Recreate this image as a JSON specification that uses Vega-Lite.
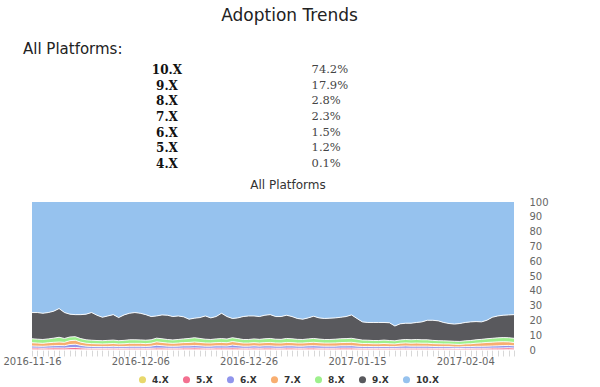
{
"$schema": "https://vega.github.io/schema/vega-lite/v6.json",
"padding": {"left": 2, "top": 7, "right": 5, "bottom": 5},
"background": "white",
"title": {"text": "Adoption Trends", "anchor": "middle", "fontSize": 17, "fontWeight": "normal", "font": "DejaVu Sans", "color": "#222", "dx": 14, "offset": 17},
"datasets": {
"table": [
{"s":"10.X","share":0.742},{"s":"9.X","share":0.179},{"s":"8.X","share":0.028},{"s":"7.X","share":0.023},{"s":"6.X","share":0.015},{"s":"5.X","share":0.012},{"s":"4.X","share":0.001}
],
"trend": [
{"d":"2016/11/16","s":"4.X","v":4,"p":0.1},{"d":"2016/11/16","s":"5.X","v":5,"p":1.2},{"d":"2016/11/16","s":"6.X","v":6,"p":1.4},{"d":"2016/11/16","s":"7.X","v":7,"p":2.2},{"d":"2016/11/16","s":"8.X","v":8,"p":2.7},{"d":"2016/11/16","s":"9.X","v":9,"p":17.7},{"d":"2016/11/16","s":"10.X","v":10,"p":74.7},
{"d":"2016/11/17","s":"4.X","v":4,"p":0.1},{"d":"2016/11/17","s":"5.X","v":5,"p":1.2},{"d":"2016/11/17","s":"6.X","v":6,"p":1.3},{"d":"2016/11/17","s":"7.X","v":7,"p":2.1},{"d":"2016/11/17","s":"8.X","v":8,"p":2.6},{"d":"2016/11/17","s":"9.X","v":9,"p":18.0},{"d":"2016/11/17","s":"10.X","v":10,"p":74.7},
{"d":"2016/11/18","s":"4.X","v":4,"p":0.1},{"d":"2016/11/18","s":"5.X","v":5,"p":1.1},{"d":"2016/11/18","s":"6.X","v":6,"p":1.3},{"d":"2016/11/18","s":"7.X","v":7,"p":2.0},{"d":"2016/11/18","s":"8.X","v":8,"p":2.6},{"d":"2016/11/18","s":"9.X","v":9,"p":17.7},{"d":"2016/11/18","s":"10.X","v":10,"p":75.2},
{"d":"2016/11/19","s":"4.X","v":4,"p":0.1},{"d":"2016/11/19","s":"5.X","v":5,"p":1.2},{"d":"2016/11/19","s":"6.X","v":6,"p":1.4},{"d":"2016/11/19","s":"7.X","v":7,"p":2.2},{"d":"2016/11/19","s":"8.X","v":8,"p":2.6},{"d":"2016/11/19","s":"9.X","v":9,"p":17.8},{"d":"2016/11/19","s":"10.X","v":10,"p":74.7},
{"d":"2016/11/20","s":"4.X","v":4,"p":0.1},{"d":"2016/11/20","s":"5.X","v":5,"p":1.3},{"d":"2016/11/20","s":"6.X","v":6,"p":1.5},{"d":"2016/11/20","s":"7.X","v":7,"p":2.3},{"d":"2016/11/20","s":"8.X","v":8,"p":2.8},{"d":"2016/11/20","s":"9.X","v":9,"p":18.2},{"d":"2016/11/20","s":"10.X","v":10,"p":73.8},
{"d":"2016/11/21","s":"4.X","v":4,"p":0.1},{"d":"2016/11/21","s":"5.X","v":5,"p":1.3},{"d":"2016/11/21","s":"6.X","v":6,"p":1.6},{"d":"2016/11/21","s":"7.X","v":7,"p":2.4},{"d":"2016/11/21","s":"8.X","v":8,"p":3.2},{"d":"2016/11/21","s":"9.X","v":9,"p":19.4},{"d":"2016/11/21","s":"10.X","v":10,"p":72.0},
{"d":"2016/11/22","s":"4.X","v":4,"p":0.1},{"d":"2016/11/22","s":"5.X","v":5,"p":1.2},{"d":"2016/11/22","s":"6.X","v":6,"p":1.6},{"d":"2016/11/22","s":"7.X","v":7,"p":2.3},{"d":"2016/11/22","s":"8.X","v":8,"p":2.6},{"d":"2016/11/22","s":"9.X","v":9,"p":17.5},{"d":"2016/11/22","s":"10.X","v":10,"p":74.7},
{"d":"2016/11/23","s":"4.X","v":4,"p":0.2},{"d":"2016/11/23","s":"5.X","v":5,"p":1.4},{"d":"2016/11/23","s":"6.X","v":6,"p":2.1},{"d":"2016/11/23","s":"7.X","v":7,"p":2.6},{"d":"2016/11/23","s":"8.X","v":8,"p":2.5},{"d":"2016/11/23","s":"9.X","v":9,"p":15.4},{"d":"2016/11/23","s":"10.X","v":10,"p":75.8},
{"d":"2016/11/24","s":"4.X","v":4,"p":0.2},{"d":"2016/11/24","s":"5.X","v":5,"p":1.5},{"d":"2016/11/24","s":"6.X","v":6,"p":2.2},{"d":"2016/11/24","s":"7.X","v":7,"p":2.7},{"d":"2016/11/24","s":"8.X","v":8,"p":2.4},{"d":"2016/11/24","s":"9.X","v":9,"p":14.9},{"d":"2016/11/24","s":"10.X","v":10,"p":76.1},
{"d":"2016/11/25","s":"4.X","v":4,"p":0.1},{"d":"2016/11/25","s":"5.X","v":5,"p":1.3},{"d":"2016/11/25","s":"6.X","v":6,"p":1.7},{"d":"2016/11/25","s":"7.X","v":7,"p":2.2},{"d":"2016/11/25","s":"8.X","v":8,"p":2.4},{"d":"2016/11/25","s":"9.X","v":9,"p":16.2},{"d":"2016/11/25","s":"10.X","v":10,"p":76.1},
{"d":"2016/11/26","s":"4.X","v":4,"p":0.1},{"d":"2016/11/26","s":"5.X","v":5,"p":1.1},{"d":"2016/11/26","s":"6.X","v":6,"p":1.4},{"d":"2016/11/26","s":"7.X","v":7,"p":2.0},{"d":"2016/11/26","s":"8.X","v":8,"p":2.3},{"d":"2016/11/26","s":"9.X","v":9,"p":17.3},{"d":"2016/11/26","s":"10.X","v":10,"p":75.8},
{"d":"2016/11/27","s":"4.X","v":4,"p":0.1},{"d":"2016/11/27","s":"5.X","v":5,"p":1.0},{"d":"2016/11/27","s":"6.X","v":6,"p":1.3},{"d":"2016/11/27","s":"7.X","v":7,"p":1.9},{"d":"2016/11/27","s":"8.X","v":8,"p":2.3},{"d":"2016/11/27","s":"9.X","v":9,"p":18.7},{"d":"2016/11/27","s":"10.X","v":10,"p":74.7},
{"d":"2016/11/28","s":"4.X","v":4,"p":0.1},{"d":"2016/11/28","s":"5.X","v":5,"p":1.0},{"d":"2016/11/28","s":"6.X","v":6,"p":1.2},{"d":"2016/11/28","s":"7.X","v":7,"p":1.9},{"d":"2016/11/28","s":"8.X","v":8,"p":2.2},{"d":"2016/11/28","s":"9.X","v":9,"p":17.1},{"d":"2016/11/28","s":"10.X","v":10,"p":76.5},
{"d":"2016/11/29","s":"4.X","v":4,"p":0.1},{"d":"2016/11/29","s":"5.X","v":5,"p":1.0},{"d":"2016/11/29","s":"6.X","v":6,"p":1.2},{"d":"2016/11/29","s":"7.X","v":7,"p":1.8},{"d":"2016/11/29","s":"8.X","v":8,"p":2.2},{"d":"2016/11/29","s":"9.X","v":9,"p":15.8},{"d":"2016/11/29","s":"10.X","v":10,"p":77.9},
{"d":"2016/11/30","s":"4.X","v":4,"p":0.1},{"d":"2016/11/30","s":"5.X","v":5,"p":1.0},{"d":"2016/11/30","s":"6.X","v":6,"p":1.2},{"d":"2016/11/30","s":"7.X","v":7,"p":1.9},{"d":"2016/11/30","s":"8.X","v":8,"p":2.3},{"d":"2016/11/30","s":"9.X","v":9,"p":16.5},{"d":"2016/11/30","s":"10.X","v":10,"p":77.0},
{"d":"2016/12/01","s":"4.X","v":4,"p":0.1},{"d":"2016/12/01","s":"5.X","v":5,"p":1.1},{"d":"2016/12/01","s":"6.X","v":6,"p":1.3},{"d":"2016/12/01","s":"7.X","v":7,"p":1.9},{"d":"2016/12/01","s":"8.X","v":8,"p":2.3},{"d":"2016/12/01","s":"9.X","v":9,"p":17.2},{"d":"2016/12/01","s":"10.X","v":10,"p":76.1},
{"d":"2016/12/02","s":"4.X","v":4,"p":0.1},{"d":"2016/12/02","s":"5.X","v":5,"p":1.0},{"d":"2016/12/02","s":"6.X","v":6,"p":1.2},{"d":"2016/12/02","s":"7.X","v":7,"p":1.8},{"d":"2016/12/02","s":"8.X","v":8,"p":2.2},{"d":"2016/12/02","s":"9.X","v":9,"p":15.6},{"d":"2016/12/02","s":"10.X","v":10,"p":78.1},
{"d":"2016/12/03","s":"4.X","v":4,"p":0.1},{"d":"2016/12/03","s":"5.X","v":5,"p":1.0},{"d":"2016/12/03","s":"6.X","v":6,"p":1.2},{"d":"2016/12/03","s":"7.X","v":7,"p":1.9},{"d":"2016/12/03","s":"8.X","v":8,"p":2.3},{"d":"2016/12/03","s":"9.X","v":9,"p":17.2},{"d":"2016/12/03","s":"10.X","v":10,"p":76.3},
{"d":"2016/12/04","s":"4.X","v":4,"p":0.1},{"d":"2016/12/04","s":"5.X","v":5,"p":1.1},{"d":"2016/12/04","s":"6.X","v":6,"p":1.3},{"d":"2016/12/04","s":"7.X","v":7,"p":2.0},{"d":"2016/12/04","s":"8.X","v":8,"p":2.4},{"d":"2016/12/04","s":"9.X","v":9,"p":17.9},{"d":"2016/12/04","s":"10.X","v":10,"p":75.2},
{"d":"2016/12/05","s":"4.X","v":4,"p":0.1},{"d":"2016/12/05","s":"5.X","v":5,"p":1.1},{"d":"2016/12/05","s":"6.X","v":6,"p":1.3},{"d":"2016/12/05","s":"7.X","v":7,"p":2.0},{"d":"2016/12/05","s":"8.X","v":8,"p":2.4},{"d":"2016/12/05","s":"9.X","v":9,"p":18.4},{"d":"2016/12/05","s":"10.X","v":10,"p":74.7},
{"d":"2016/12/06","s":"4.X","v":4,"p":0.1},{"d":"2016/12/06","s":"5.X","v":5,"p":1.1},{"d":"2016/12/06","s":"6.X","v":6,"p":1.3},{"d":"2016/12/06","s":"7.X","v":7,"p":2.0},{"d":"2016/12/06","s":"8.X","v":8,"p":2.3},{"d":"2016/12/06","s":"9.X","v":9,"p":18.0},{"d":"2016/12/06","s":"10.X","v":10,"p":75.2},
{"d":"2016/12/07","s":"4.X","v":4,"p":0.1},{"d":"2016/12/07","s":"5.X","v":5,"p":1.0},{"d":"2016/12/07","s":"6.X","v":6,"p":1.3},{"d":"2016/12/07","s":"7.X","v":7,"p":1.9},{"d":"2016/12/07","s":"8.X","v":8,"p":2.3},{"d":"2016/12/07","s":"9.X","v":9,"p":17.3},{"d":"2016/12/07","s":"10.X","v":10,"p":76.1},
{"d":"2016/12/08","s":"4.X","v":4,"p":0.1},{"d":"2016/12/08","s":"5.X","v":5,"p":1.1},{"d":"2016/12/08","s":"6.X","v":6,"p":1.4},{"d":"2016/12/08","s":"7.X","v":7,"p":2.0},{"d":"2016/12/08","s":"8.X","v":8,"p":2.3},{"d":"2016/12/08","s":"9.X","v":9,"p":15.7},{"d":"2016/12/08","s":"10.X","v":10,"p":77.4},
{"d":"2016/12/09","s":"4.X","v":4,"p":0.1},{"d":"2016/12/09","s":"5.X","v":5,"p":1.2},{"d":"2016/12/09","s":"6.X","v":6,"p":1.9},{"d":"2016/12/09","s":"7.X","v":7,"p":2.3},{"d":"2016/12/09","s":"8.X","v":8,"p":2.5},{"d":"2016/12/09","s":"9.X","v":9,"p":15.0},{"d":"2016/12/09","s":"10.X","v":10,"p":77.0},
{"d":"2016/12/10","s":"4.X","v":4,"p":0.1},{"d":"2016/12/10","s":"5.X","v":5,"p":1.2},{"d":"2016/12/10","s":"6.X","v":6,"p":1.6},{"d":"2016/12/10","s":"7.X","v":7,"p":2.2},{"d":"2016/12/10","s":"8.X","v":8,"p":2.5},{"d":"2016/12/10","s":"9.X","v":9,"p":16.1},{"d":"2016/12/10","s":"10.X","v":10,"p":76.3},
{"d":"2016/12/11","s":"4.X","v":4,"p":0.1},{"d":"2016/12/11","s":"5.X","v":5,"p":1.1},{"d":"2016/12/11","s":"6.X","v":6,"p":1.4},{"d":"2016/12/11","s":"7.X","v":7,"p":2.1},{"d":"2016/12/11","s":"8.X","v":8,"p":2.4},{"d":"2016/12/11","s":"9.X","v":9,"p":16.4},{"d":"2016/12/11","s":"10.X","v":10,"p":76.5},
{"d":"2016/12/12","s":"4.X","v":4,"p":0.1},{"d":"2016/12/12","s":"5.X","v":5,"p":1.1},{"d":"2016/12/12","s":"6.X","v":6,"p":1.3},{"d":"2016/12/12","s":"7.X","v":7,"p":2.0},{"d":"2016/12/12","s":"8.X","v":8,"p":2.3},{"d":"2016/12/12","s":"9.X","v":9,"p":15.8},{"d":"2016/12/12","s":"10.X","v":10,"p":77.4},
{"d":"2016/12/13","s":"4.X","v":4,"p":0.1},{"d":"2016/12/13","s":"5.X","v":5,"p":1.1},{"d":"2016/12/13","s":"6.X","v":6,"p":1.4},{"d":"2016/12/13","s":"7.X","v":7,"p":2.1},{"d":"2016/12/13","s":"8.X","v":8,"p":2.4},{"d":"2016/12/13","s":"9.X","v":9,"p":15.9},{"d":"2016/12/13","s":"10.X","v":10,"p":77.0},
{"d":"2016/12/14","s":"4.X","v":4,"p":0.1},{"d":"2016/12/14","s":"5.X","v":5,"p":1.2},{"d":"2016/12/14","s":"6.X","v":6,"p":1.5},{"d":"2016/12/14","s":"7.X","v":7,"p":2.2},{"d":"2016/12/14","s":"8.X","v":8,"p":2.5},{"d":"2016/12/14","s":"9.X","v":9,"p":14.9},{"d":"2016/12/14","s":"10.X","v":10,"p":77.6},
{"d":"2016/12/15","s":"4.X","v":4,"p":0.1},{"d":"2016/12/15","s":"5.X","v":5,"p":1.2},{"d":"2016/12/15","s":"6.X","v":6,"p":1.5},{"d":"2016/12/15","s":"7.X","v":7,"p":2.3},{"d":"2016/12/15","s":"8.X","v":8,"p":2.7},{"d":"2016/12/15","s":"9.X","v":9,"p":13.0},{"d":"2016/12/15","s":"10.X","v":10,"p":79.2},
{"d":"2016/12/16","s":"4.X","v":4,"p":0.1},{"d":"2016/12/16","s":"5.X","v":5,"p":1.3},{"d":"2016/12/16","s":"6.X","v":6,"p":1.6},{"d":"2016/12/16","s":"7.X","v":7,"p":2.4},{"d":"2016/12/16","s":"8.X","v":8,"p":2.9},{"d":"2016/12/16","s":"9.X","v":9,"p":13.2},{"d":"2016/12/16","s":"10.X","v":10,"p":78.5},
{"d":"2016/12/17","s":"4.X","v":4,"p":0.1},{"d":"2016/12/17","s":"5.X","v":5,"p":1.2},{"d":"2016/12/17","s":"6.X","v":6,"p":1.5},{"d":"2016/12/17","s":"7.X","v":7,"p":2.3},{"d":"2016/12/17","s":"8.X","v":8,"p":2.7},{"d":"2016/12/17","s":"9.X","v":9,"p":14.1},{"d":"2016/12/17","s":"10.X","v":10,"p":78.1},
{"d":"2016/12/18","s":"4.X","v":4,"p":0.1},{"d":"2016/12/18","s":"5.X","v":5,"p":1.1},{"d":"2016/12/18","s":"6.X","v":6,"p":1.4},{"d":"2016/12/18","s":"7.X","v":7,"p":2.2},{"d":"2016/12/18","s":"8.X","v":8,"p":2.5},{"d":"2016/12/18","s":"9.X","v":9,"p":15.7},{"d":"2016/12/18","s":"10.X","v":10,"p":77.0},
{"d":"2016/12/19","s":"4.X","v":4,"p":0.1},{"d":"2016/12/19","s":"5.X","v":5,"p":1.1},{"d":"2016/12/19","s":"6.X","v":6,"p":1.4},{"d":"2016/12/19","s":"7.X","v":7,"p":2.1},{"d":"2016/12/19","s":"8.X","v":8,"p":2.4},{"d":"2016/12/19","s":"9.X","v":9,"p":14.6},{"d":"2016/12/19","s":"10.X","v":10,"p":78.3},
{"d":"2016/12/20","s":"4.X","v":4,"p":0.1},{"d":"2016/12/20","s":"5.X","v":5,"p":1.2},{"d":"2016/12/20","s":"6.X","v":6,"p":1.5},{"d":"2016/12/20","s":"7.X","v":7,"p":2.2},{"d":"2016/12/20","s":"8.X","v":8,"p":2.5},{"d":"2016/12/20","s":"9.X","v":9,"p":15.1},{"d":"2016/12/20","s":"10.X","v":10,"p":77.4},
{"d":"2016/12/21","s":"4.X","v":4,"p":0.1},{"d":"2016/12/21","s":"5.X","v":5,"p":1.2},{"d":"2016/12/21","s":"6.X","v":6,"p":1.5},{"d":"2016/12/21","s":"7.X","v":7,"p":2.3},{"d":"2016/12/21","s":"8.X","v":8,"p":2.6},{"d":"2016/12/21","s":"9.X","v":9,"p":17.1},{"d":"2016/12/21","s":"10.X","v":10,"p":75.2},
{"d":"2016/12/22","s":"4.X","v":4,"p":0.1},{"d":"2016/12/22","s":"5.X","v":5,"p":1.2},{"d":"2016/12/22","s":"6.X","v":6,"p":1.4},{"d":"2016/12/22","s":"7.X","v":7,"p":2.2},{"d":"2016/12/22","s":"8.X","v":8,"p":2.5},{"d":"2016/12/22","s":"9.X","v":9,"p":15.2},{"d":"2016/12/22","s":"10.X","v":10,"p":77.4},
{"d":"2016/12/23","s":"4.X","v":4,"p":0.1},{"d":"2016/12/23","s":"5.X","v":5,"p":1.3},{"d":"2016/12/23","s":"6.X","v":6,"p":1.9},{"d":"2016/12/23","s":"7.X","v":7,"p":2.4},{"d":"2016/12/23","s":"8.X","v":8,"p":2.6},{"d":"2016/12/23","s":"9.X","v":9,"p":13.0},{"d":"2016/12/23","s":"10.X","v":10,"p":78.7},
{"d":"2016/12/24","s":"4.X","v":4,"p":0.1},{"d":"2016/12/24","s":"5.X","v":5,"p":1.2},{"d":"2016/12/24","s":"6.X","v":6,"p":1.6},{"d":"2016/12/24","s":"7.X","v":7,"p":2.3},{"d":"2016/12/24","s":"8.X","v":8,"p":2.5},{"d":"2016/12/24","s":"9.X","v":9,"p":14.0},{"d":"2016/12/24","s":"10.X","v":10,"p":78.3},
{"d":"2016/12/25","s":"4.X","v":4,"p":0.1},{"d":"2016/12/25","s":"5.X","v":5,"p":1.1},{"d":"2016/12/25","s":"6.X","v":6,"p":1.4},{"d":"2016/12/25","s":"7.X","v":7,"p":2.1},{"d":"2016/12/25","s":"8.X","v":8,"p":2.4},{"d":"2016/12/25","s":"9.X","v":9,"p":15.5},{"d":"2016/12/25","s":"10.X","v":10,"p":77.4},
{"d":"2016/12/26","s":"4.X","v":4,"p":0.1},{"d":"2016/12/26","s":"5.X","v":5,"p":1.1},{"d":"2016/12/26","s":"6.X","v":6,"p":1.4},{"d":"2016/12/26","s":"7.X","v":7,"p":2.1},{"d":"2016/12/26","s":"8.X","v":8,"p":2.4},{"d":"2016/12/26","s":"9.X","v":9,"p":15.9},{"d":"2016/12/26","s":"10.X","v":10,"p":77.0},
{"d":"2016/12/27","s":"4.X","v":4,"p":0.1},{"d":"2016/12/27","s":"5.X","v":5,"p":1.2},{"d":"2016/12/27","s":"6.X","v":6,"p":1.5},{"d":"2016/12/27","s":"7.X","v":7,"p":2.2},{"d":"2016/12/27","s":"8.X","v":8,"p":2.5},{"d":"2016/12/27","s":"9.X","v":9,"p":15.5},{"d":"2016/12/27","s":"10.X","v":10,"p":77.0},
{"d":"2016/12/28","s":"4.X","v":4,"p":0.1},{"d":"2016/12/28","s":"5.X","v":5,"p":1.1},{"d":"2016/12/28","s":"6.X","v":6,"p":1.4},{"d":"2016/12/28","s":"7.X","v":7,"p":2.1},{"d":"2016/12/28","s":"8.X","v":8,"p":2.5},{"d":"2016/12/28","s":"9.X","v":9,"p":15.4},{"d":"2016/12/28","s":"10.X","v":10,"p":77.4},
{"d":"2016/12/29","s":"4.X","v":4,"p":0.1},{"d":"2016/12/29","s":"5.X","v":5,"p":1.2},{"d":"2016/12/29","s":"6.X","v":6,"p":1.5},{"d":"2016/12/29","s":"7.X","v":7,"p":2.2},{"d":"2016/12/29","s":"8.X","v":8,"p":2.6},{"d":"2016/12/29","s":"9.X","v":9,"p":15.9},{"d":"2016/12/29","s":"10.X","v":10,"p":76.5},
{"d":"2016/12/30","s":"4.X","v":4,"p":0.1},{"d":"2016/12/30","s":"5.X","v":5,"p":1.2},{"d":"2016/12/30","s":"6.X","v":6,"p":1.5},{"d":"2016/12/30","s":"7.X","v":7,"p":2.3},{"d":"2016/12/30","s":"8.X","v":8,"p":2.7},{"d":"2016/12/30","s":"9.X","v":9,"p":16.1},{"d":"2016/12/30","s":"10.X","v":10,"p":76.1},
{"d":"2016/12/31","s":"4.X","v":4,"p":0.1},{"d":"2016/12/31","s":"5.X","v":5,"p":1.1},{"d":"2016/12/31","s":"6.X","v":6,"p":1.4},{"d":"2016/12/31","s":"7.X","v":7,"p":2.2},{"d":"2016/12/31","s":"8.X","v":8,"p":2.5},{"d":"2016/12/31","s":"9.X","v":9,"p":15.3},{"d":"2016/12/31","s":"10.X","v":10,"p":77.4},
{"d":"2017/01/01","s":"4.X","v":4,"p":0.1},{"d":"2017/01/01","s":"5.X","v":5,"p":1.1},{"d":"2017/01/01","s":"6.X","v":6,"p":1.4},{"d":"2017/01/01","s":"7.X","v":7,"p":2.1},{"d":"2017/01/01","s":"8.X","v":8,"p":2.5},{"d":"2017/01/01","s":"9.X","v":9,"p":15.4},{"d":"2017/01/01","s":"10.X","v":10,"p":77.4},
{"d":"2017/01/02","s":"4.X","v":4,"p":0.1},{"d":"2017/01/02","s":"5.X","v":5,"p":1.2},{"d":"2017/01/02","s":"6.X","v":6,"p":1.5},{"d":"2017/01/02","s":"7.X","v":7,"p":2.3},{"d":"2017/01/02","s":"8.X","v":8,"p":2.7},{"d":"2017/01/02","s":"9.X","v":9,"p":15.7},{"d":"2017/01/02","s":"10.X","v":10,"p":76.5},
{"d":"2017/01/03","s":"4.X","v":4,"p":0.1},{"d":"2017/01/03","s":"5.X","v":5,"p":1.2},{"d":"2017/01/03","s":"6.X","v":6,"p":1.5},{"d":"2017/01/03","s":"7.X","v":7,"p":2.2},{"d":"2017/01/03","s":"8.X","v":8,"p":2.6},{"d":"2017/01/03","s":"9.X","v":9,"p":15.0},{"d":"2017/01/03","s":"10.X","v":10,"p":77.4},
{"d":"2017/01/04","s":"4.X","v":4,"p":0.1},{"d":"2017/01/04","s":"5.X","v":5,"p":1.1},{"d":"2017/01/04","s":"6.X","v":6,"p":1.4},{"d":"2017/01/04","s":"7.X","v":7,"p":2.1},{"d":"2017/01/04","s":"8.X","v":8,"p":2.5},{"d":"2017/01/04","s":"9.X","v":9,"p":14.1},{"d":"2017/01/04","s":"10.X","v":10,"p":78.7},
{"d":"2017/01/05","s":"4.X","v":4,"p":0.1},{"d":"2017/01/05","s":"5.X","v":5,"p":1.1},{"d":"2017/01/05","s":"6.X","v":6,"p":1.4},{"d":"2017/01/05","s":"7.X","v":7,"p":2.1},{"d":"2017/01/05","s":"8.X","v":8,"p":2.4},{"d":"2017/01/05","s":"9.X","v":9,"p":13.7},{"d":"2017/01/05","s":"10.X","v":10,"p":79.2},
{"d":"2017/01/06","s":"4.X","v":4,"p":0.1},{"d":"2017/01/06","s":"5.X","v":5,"p":1.2},{"d":"2017/01/06","s":"6.X","v":6,"p":1.5},{"d":"2017/01/06","s":"7.X","v":7,"p":2.2},{"d":"2017/01/06","s":"8.X","v":8,"p":2.5},{"d":"2017/01/06","s":"9.X","v":9,"p":14.2},{"d":"2017/01/06","s":"10.X","v":10,"p":78.3},
{"d":"2017/01/07","s":"4.X","v":4,"p":0.1},{"d":"2017/01/07","s":"5.X","v":5,"p":1.2},{"d":"2017/01/07","s":"6.X","v":6,"p":1.6},{"d":"2017/01/07","s":"7.X","v":7,"p":2.3},{"d":"2017/01/07","s":"8.X","v":8,"p":2.6},{"d":"2017/01/07","s":"9.X","v":9,"p":15.0},{"d":"2017/01/07","s":"10.X","v":10,"p":77.2},
{"d":"2017/01/08","s":"4.X","v":4,"p":0.1},{"d":"2017/01/08","s":"5.X","v":5,"p":1.1},{"d":"2017/01/08","s":"6.X","v":6,"p":1.5},{"d":"2017/01/08","s":"7.X","v":7,"p":2.2},{"d":"2017/01/08","s":"8.X","v":8,"p":2.5},{"d":"2017/01/08","s":"9.X","v":9,"p":14.3},{"d":"2017/01/08","s":"10.X","v":10,"p":78.3},
{"d":"2017/01/09","s":"4.X","v":4,"p":0.1},{"d":"2017/01/09","s":"5.X","v":5,"p":1.1},{"d":"2017/01/09","s":"6.X","v":6,"p":1.4},{"d":"2017/01/09","s":"7.X","v":7,"p":2.1},{"d":"2017/01/09","s":"8.X","v":8,"p":2.4},{"d":"2017/01/09","s":"9.X","v":9,"p":14.2},{"d":"2017/01/09","s":"10.X","v":10,"p":78.7},
{"d":"2017/01/10","s":"4.X","v":4,"p":0.1},{"d":"2017/01/10","s":"5.X","v":5,"p":1.1},{"d":"2017/01/10","s":"6.X","v":6,"p":1.4},{"d":"2017/01/10","s":"7.X","v":7,"p":2.1},{"d":"2017/01/10","s":"8.X","v":8,"p":2.4},{"d":"2017/01/10","s":"9.X","v":9,"p":14.4},{"d":"2017/01/10","s":"10.X","v":10,"p":78.5},
{"d":"2017/01/11","s":"4.X","v":4,"p":0.1},{"d":"2017/01/11","s":"5.X","v":5,"p":1.1},{"d":"2017/01/11","s":"6.X","v":6,"p":1.4},{"d":"2017/01/11","s":"7.X","v":7,"p":2.2},{"d":"2017/01/11","s":"8.X","v":8,"p":2.5},{"d":"2017/01/11","s":"9.X","v":9,"p":14.4},{"d":"2017/01/11","s":"10.X","v":10,"p":78.3},
{"d":"2017/01/12","s":"4.X","v":4,"p":0.1},{"d":"2017/01/12","s":"5.X","v":5,"p":1.2},{"d":"2017/01/12","s":"6.X","v":6,"p":1.5},{"d":"2017/01/12","s":"7.X","v":7,"p":2.2},{"d":"2017/01/12","s":"8.X","v":8,"p":2.6},{"d":"2017/01/12","s":"9.X","v":9,"p":14.5},{"d":"2017/01/12","s":"10.X","v":10,"p":77.9},
{"d":"2017/01/13","s":"4.X","v":4,"p":0.1},{"d":"2017/01/13","s":"5.X","v":5,"p":1.2},{"d":"2017/01/13","s":"6.X","v":6,"p":1.5},{"d":"2017/01/13","s":"7.X","v":7,"p":2.3},{"d":"2017/01/13","s":"8.X","v":8,"p":2.6},{"d":"2017/01/13","s":"9.X","v":9,"p":14.9},{"d":"2017/01/13","s":"10.X","v":10,"p":77.4},
{"d":"2017/01/14","s":"4.X","v":4,"p":0.1},{"d":"2017/01/14","s":"5.X","v":5,"p":1.2},{"d":"2017/01/14","s":"6.X","v":6,"p":1.6},{"d":"2017/01/14","s":"7.X","v":7,"p":2.3},{"d":"2017/01/14","s":"8.X","v":8,"p":2.7},{"d":"2017/01/14","s":"9.X","v":9,"p":15.8},{"d":"2017/01/14","s":"10.X","v":10,"p":76.3},
{"d":"2017/01/15","s":"4.X","v":4,"p":0.1},{"d":"2017/01/15","s":"5.X","v":5,"p":1.1},{"d":"2017/01/15","s":"6.X","v":6,"p":1.4},{"d":"2017/01/15","s":"7.X","v":7,"p":2.2},{"d":"2017/01/15","s":"8.X","v":8,"p":2.5},{"d":"2017/01/15","s":"9.X","v":9,"p":14.0},{"d":"2017/01/15","s":"10.X","v":10,"p":78.7},
{"d":"2017/01/16","s":"4.X","v":4,"p":0.1},{"d":"2017/01/16","s":"5.X","v":5,"p":1.0},{"d":"2017/01/16","s":"6.X","v":6,"p":1.3},{"d":"2017/01/16","s":"7.X","v":7,"p":2.0},{"d":"2017/01/16","s":"8.X","v":8,"p":2.3},{"d":"2017/01/16","s":"9.X","v":9,"p":12.3},{"d":"2017/01/16","s":"10.X","v":10,"p":81.0},
{"d":"2017/01/17","s":"4.X","v":4,"p":0.1},{"d":"2017/01/17","s":"5.X","v":5,"p":1.0},{"d":"2017/01/17","s":"6.X","v":6,"p":1.3},{"d":"2017/01/17","s":"7.X","v":7,"p":2.0},{"d":"2017/01/17","s":"8.X","v":8,"p":2.2},{"d":"2017/01/17","s":"9.X","v":9,"p":12.0},{"d":"2017/01/17","s":"10.X","v":10,"p":81.4},
{"d":"2017/01/18","s":"4.X","v":4,"p":0.1},{"d":"2017/01/18","s":"5.X","v":5,"p":1.0},{"d":"2017/01/18","s":"6.X","v":6,"p":1.2},{"d":"2017/01/18","s":"7.X","v":7,"p":1.9},{"d":"2017/01/18","s":"8.X","v":8,"p":2.2},{"d":"2017/01/18","s":"9.X","v":9,"p":12.2},{"d":"2017/01/18","s":"10.X","v":10,"p":81.4},
{"d":"2017/01/19","s":"4.X","v":4,"p":0.1},{"d":"2017/01/19","s":"5.X","v":5,"p":1.0},{"d":"2017/01/19","s":"6.X","v":6,"p":1.2},{"d":"2017/01/19","s":"7.X","v":7,"p":1.9},{"d":"2017/01/19","s":"8.X","v":8,"p":2.2},{"d":"2017/01/19","s":"9.X","v":9,"p":12.2},{"d":"2017/01/19","s":"10.X","v":10,"p":81.4},
{"d":"2017/01/20","s":"4.X","v":4,"p":0.1},{"d":"2017/01/20","s":"5.X","v":5,"p":1.0},{"d":"2017/01/20","s":"6.X","v":6,"p":1.3},{"d":"2017/01/20","s":"7.X","v":7,"p":2.0},{"d":"2017/01/20","s":"8.X","v":8,"p":2.3},{"d":"2017/01/20","s":"9.X","v":9,"p":11.9},{"d":"2017/01/20","s":"10.X","v":10,"p":81.4},
{"d":"2017/01/21","s":"4.X","v":4,"p":0.1},{"d":"2017/01/21","s":"5.X","v":5,"p":1.0},{"d":"2017/01/21","s":"6.X","v":6,"p":1.2},{"d":"2017/01/21","s":"7.X","v":7,"p":1.9},{"d":"2017/01/21","s":"8.X","v":8,"p":2.2},{"d":"2017/01/21","s":"9.X","v":9,"p":12.0},{"d":"2017/01/21","s":"10.X","v":10,"p":81.6},
{"d":"2017/01/22","s":"4.X","v":4,"p":0.1},{"d":"2017/01/22","s":"5.X","v":5,"p":1.0},{"d":"2017/01/22","s":"6.X","v":6,"p":1.2},{"d":"2017/01/22","s":"7.X","v":7,"p":1.8},{"d":"2017/01/22","s":"8.X","v":8,"p":2.1},{"d":"2017/01/22","s":"9.X","v":9,"p":10.0},{"d":"2017/01/22","s":"10.X","v":10,"p":83.8},
{"d":"2017/01/23","s":"4.X","v":4,"p":0.1},{"d":"2017/01/23","s":"5.X","v":5,"p":1.1},{"d":"2017/01/23","s":"6.X","v":6,"p":1.4},{"d":"2017/01/23","s":"7.X","v":7,"p":2.0},{"d":"2017/01/23","s":"8.X","v":8,"p":2.2},{"d":"2017/01/23","s":"9.X","v":9,"p":10.9},{"d":"2017/01/23","s":"10.X","v":10,"p":82.3},
{"d":"2017/01/24","s":"4.X","v":4,"p":0.1},{"d":"2017/01/24","s":"5.X","v":5,"p":1.1},{"d":"2017/01/24","s":"6.X","v":6,"p":1.5},{"d":"2017/01/24","s":"7.X","v":7,"p":2.1},{"d":"2017/01/24","s":"8.X","v":8,"p":2.3},{"d":"2017/01/24","s":"9.X","v":9,"p":11.0},{"d":"2017/01/24","s":"10.X","v":10,"p":81.9},
{"d":"2017/01/25","s":"4.X","v":4,"p":0.1},{"d":"2017/01/25","s":"5.X","v":5,"p":1.1},{"d":"2017/01/25","s":"6.X","v":6,"p":1.4},{"d":"2017/01/25","s":"7.X","v":7,"p":2.0},{"d":"2017/01/25","s":"8.X","v":8,"p":2.3},{"d":"2017/01/25","s":"9.X","v":9,"p":11.2},{"d":"2017/01/25","s":"10.X","v":10,"p":81.9},
{"d":"2017/01/26","s":"4.X","v":4,"p":0.1},{"d":"2017/01/26","s":"5.X","v":5,"p":1.1},{"d":"2017/01/26","s":"6.X","v":6,"p":1.4},{"d":"2017/01/26","s":"7.X","v":7,"p":2.1},{"d":"2017/01/26","s":"8.X","v":8,"p":2.4},{"d":"2017/01/26","s":"9.X","v":9,"p":11.5},{"d":"2017/01/26","s":"10.X","v":10,"p":81.4},
{"d":"2017/01/27","s":"4.X","v":4,"p":0.1},{"d":"2017/01/27","s":"5.X","v":5,"p":1.1},{"d":"2017/01/27","s":"6.X","v":6,"p":1.4},{"d":"2017/01/27","s":"7.X","v":7,"p":2.0},{"d":"2017/01/27","s":"8.X","v":8,"p":2.3},{"d":"2017/01/27","s":"9.X","v":9,"p":12.1},{"d":"2017/01/27","s":"10.X","v":10,"p":81.0},
{"d":"2017/01/28","s":"4.X","v":4,"p":0.1},{"d":"2017/01/28","s":"5.X","v":5,"p":1.1},{"d":"2017/01/28","s":"6.X","v":6,"p":1.4},{"d":"2017/01/28","s":"7.X","v":7,"p":2.0},{"d":"2017/01/28","s":"8.X","v":8,"p":2.3},{"d":"2017/01/28","s":"9.X","v":9,"p":13.2},{"d":"2017/01/28","s":"10.X","v":10,"p":79.9},
{"d":"2017/01/29","s":"4.X","v":4,"p":0.1},{"d":"2017/01/29","s":"5.X","v":5,"p":1.0},{"d":"2017/01/29","s":"6.X","v":6,"p":1.3},{"d":"2017/01/29","s":"7.X","v":7,"p":1.9},{"d":"2017/01/29","s":"8.X","v":8,"p":2.2},{"d":"2017/01/29","s":"9.X","v":9,"p":13.6},{"d":"2017/01/29","s":"10.X","v":10,"p":79.9},
{"d":"2017/01/30","s":"4.X","v":4,"p":0.1},{"d":"2017/01/30","s":"5.X","v":5,"p":1.0},{"d":"2017/01/30","s":"6.X","v":6,"p":1.2},{"d":"2017/01/30","s":"7.X","v":7,"p":1.9},{"d":"2017/01/30","s":"8.X","v":8,"p":2.1},{"d":"2017/01/30","s":"9.X","v":9,"p":13.4},{"d":"2017/01/30","s":"10.X","v":10,"p":80.3},
{"d":"2017/01/31","s":"4.X","v":4,"p":0.1},{"d":"2017/01/31","s":"5.X","v":5,"p":1.0},{"d":"2017/01/31","s":"6.X","v":6,"p":1.2},{"d":"2017/01/31","s":"7.X","v":7,"p":1.8},{"d":"2017/01/31","s":"8.X","v":8,"p":2.1},{"d":"2017/01/31","s":"9.X","v":9,"p":12.4},{"d":"2017/01/31","s":"10.X","v":10,"p":81.4},
{"d":"2017/02/01","s":"4.X","v":4,"p":0.1},{"d":"2017/02/01","s":"5.X","v":5,"p":1.0},{"d":"2017/02/01","s":"6.X","v":6,"p":1.2},{"d":"2017/02/01","s":"7.X","v":7,"p":1.8},{"d":"2017/02/01","s":"8.X","v":8,"p":2.0},{"d":"2017/02/01","s":"9.X","v":9,"p":11.8},{"d":"2017/02/01","s":"10.X","v":10,"p":82.1},
{"d":"2017/02/02","s":"4.X","v":4,"p":0.1},{"d":"2017/02/02","s":"5.X","v":5,"p":0.9},{"d":"2017/02/02","s":"6.X","v":6,"p":1.1},{"d":"2017/02/02","s":"7.X","v":7,"p":1.8},{"d":"2017/02/02","s":"8.X","v":8,"p":2.0},{"d":"2017/02/02","s":"9.X","v":9,"p":11.6},{"d":"2017/02/02","s":"10.X","v":10,"p":82.5},
{"d":"2017/02/03","s":"4.X","v":4,"p":0.1},{"d":"2017/02/03","s":"5.X","v":5,"p":0.9},{"d":"2017/02/03","s":"6.X","v":6,"p":1.1},{"d":"2017/02/03","s":"7.X","v":7,"p":1.7},{"d":"2017/02/03","s":"8.X","v":8,"p":2.0},{"d":"2017/02/03","s":"9.X","v":9,"p":12.1},{"d":"2017/02/03","s":"10.X","v":10,"p":82.1},
{"d":"2017/02/04","s":"4.X","v":4,"p":0.1},{"d":"2017/02/04","s":"5.X","v":5,"p":1.0},{"d":"2017/02/04","s":"6.X","v":6,"p":1.2},{"d":"2017/02/04","s":"7.X","v":7,"p":1.8},{"d":"2017/02/04","s":"8.X","v":8,"p":2.1},{"d":"2017/02/04","s":"9.X","v":9,"p":12.4},{"d":"2017/02/04","s":"10.X","v":10,"p":81.4},
{"d":"2017/02/05","s":"4.X","v":4,"p":0.1},{"d":"2017/02/05","s":"5.X","v":5,"p":1.0},{"d":"2017/02/05","s":"6.X","v":6,"p":1.2},{"d":"2017/02/05","s":"7.X","v":7,"p":1.9},{"d":"2017/02/05","s":"8.X","v":8,"p":2.2},{"d":"2017/02/05","s":"9.X","v":9,"p":12.6},{"d":"2017/02/05","s":"10.X","v":10,"p":81.0},
{"d":"2017/02/06","s":"4.X","v":4,"p":0.1},{"d":"2017/02/06","s":"5.X","v":5,"p":1.1},{"d":"2017/02/06","s":"6.X","v":6,"p":1.3},{"d":"2017/02/06","s":"7.X","v":7,"p":2.1},{"d":"2017/02/06","s":"8.X","v":8,"p":2.3},{"d":"2017/02/06","s":"9.X","v":9,"p":12.3},{"d":"2017/02/06","s":"10.X","v":10,"p":80.8},
{"d":"2017/02/07","s":"4.X","v":4,"p":0.1},{"d":"2017/02/07","s":"5.X","v":5,"p":1.1},{"d":"2017/02/07","s":"6.X","v":6,"p":1.3},{"d":"2017/02/07","s":"7.X","v":7,"p":2.3},{"d":"2017/02/07","s":"8.X","v":8,"p":2.4},{"d":"2017/02/07","s":"9.X","v":9,"p":11.8},{"d":"2017/02/07","s":"10.X","v":10,"p":81.0},
{"d":"2017/02/08","s":"4.X","v":4,"p":0.1},{"d":"2017/02/08","s":"5.X","v":5,"p":1.1},{"d":"2017/02/08","s":"6.X","v":6,"p":1.4},{"d":"2017/02/08","s":"7.X","v":7,"p":2.5},{"d":"2017/02/08","s":"8.X","v":8,"p":2.5},{"d":"2017/02/08","s":"9.X","v":9,"p":12.5},{"d":"2017/02/08","s":"10.X","v":10,"p":79.9},
{"d":"2017/02/09","s":"4.X","v":4,"p":0.1},{"d":"2017/02/09","s":"5.X","v":5,"p":1.2},{"d":"2017/02/09","s":"6.X","v":6,"p":1.4},{"d":"2017/02/09","s":"7.X","v":7,"p":2.6},{"d":"2017/02/09","s":"8.X","v":8,"p":2.6},{"d":"2017/02/09","s":"9.X","v":9,"p":14.2},{"d":"2017/02/09","s":"10.X","v":10,"p":77.9},
{"d":"2017/02/10","s":"4.X","v":4,"p":0.1},{"d":"2017/02/10","s":"5.X","v":5,"p":1.2},{"d":"2017/02/10","s":"6.X","v":6,"p":1.5},{"d":"2017/02/10","s":"7.X","v":7,"p":2.7},{"d":"2017/02/10","s":"8.X","v":8,"p":2.7},{"d":"2017/02/10","s":"9.X","v":9,"p":14.8},{"d":"2017/02/10","s":"10.X","v":10,"p":77.0},
{"d":"2017/02/11","s":"4.X","v":4,"p":0.1},{"d":"2017/02/11","s":"5.X","v":5,"p":1.3},{"d":"2017/02/11","s":"6.X","v":6,"p":1.6},{"d":"2017/02/11","s":"7.X","v":7,"p":2.6},{"d":"2017/02/11","s":"8.X","v":8,"p":2.8},{"d":"2017/02/11","s":"9.X","v":9,"p":15.1},{"d":"2017/02/11","s":"10.X","v":10,"p":76.5},
{"d":"2017/02/12","s":"4.X","v":4,"p":0.2},{"d":"2017/02/12","s":"5.X","v":5,"p":1.3},{"d":"2017/02/12","s":"6.X","v":6,"p":1.6},{"d":"2017/02/12","s":"7.X","v":7,"p":2.4},{"d":"2017/02/12","s":"8.X","v":8,"p":2.8},{"d":"2017/02/12","s":"9.X","v":9,"p":15.4},{"d":"2017/02/12","s":"10.X","v":10,"p":76.3},
{"d":"2017/02/13","s":"4.X","v":4,"p":0.1},{"d":"2017/02/13","s":"5.X","v":5,"p":1.2},{"d":"2017/02/13","s":"6.X","v":6,"p":1.5},{"d":"2017/02/13","s":"7.X","v":7,"p":2.3},{"d":"2017/02/13","s":"8.X","v":8,"p":2.8},{"d":"2017/02/13","s":"9.X","v":9,"p":16.0},{"d":"2017/02/13","s":"10.X","v":10,"p":76.1}
]
},
"vconcat": [
{
"width": 482,
"height": 110,
"title": {"text": "All Platforms:", "anchor": "start", "fontSize": 15, "fontWeight": "normal", "font": "DejaVu Sans", "color": "#222", "dx": -9, "offset": 4},
"data": {"name": "table"},
"encoding": {
"y": {"field": "s", "type": "ordinal", "sort": ["10.X","9.X","8.X","7.X","6.X","5.X","4.X"], "axis": null, "scale": {"paddingInner": 0, "paddingOuter": 0}}
},
"layer": [
{"mark": {"type": "text", "align": "center", "baseline": "middle", "font": "DejaVu Serif", "fontWeight": "bold", "fontSize": 12, "color": "#111", "dy": 1},
"encoding": {"x": {"datum": 28, "type": "quantitative", "scale": {"domain": [0, 100], "nice": false, "zero": false}, "axis": null}, "text": {"field": "s"}}},
{"mark": {"type": "text", "align": "left", "baseline": "middle", "font": "DejaVu Serif", "fontSize": 11.5, "color": "#444", "dy": 1},
"encoding": {"x": {"datum": 58, "type": "quantitative", "axis": null}, "text": {"field": "share", "format": ".1%"}}}
]
},
{
"width": 482,
"height": 148,
"title": {"text": "All Platforms", "anchor": "middle", "fontSize": 12, "fontWeight": "normal", "font": "DejaVu Sans", "color": "#333", "dx": 15, "offset": 5},
"data": {"name": "trend"},
"transform": [
{"stack": "p", "groupby": ["d"], "sort": [{"field": "v", "order": "ascending"}], "as": ["y0", "y1"]}
],
"encoding": {
"x": {"field": "d", "type": "temporal", "scale": {"nice": false},
"axis": {"title": null, "tickCount": {"interval": "day", "step": 1},
"labelExpr": "indexof(['2016-11-16','2016-12-06','2016-12-26','2017-01-15','2017-02-04'], timeFormat(datum.value, '%Y-%m-%d')) >= 0 ? timeFormat(datum.value, '%Y-%m-%d') : ''",
"labelOverlap": false, "labelBound": false, "labelFlush": false, "domain": false, "grid": false,
"tickColor": "#d8d8d8", "tickSize": 6, "tickWidth": 1, "labelPadding": 0, "labelFontSize": 10, "labelColor": "#666", "labelFont": "DejaVu Sans"}},
"y": {"field": "y1", "type": "quantitative", "scale": {"domain": [0, 100], "nice": false},
"axis": {"title": null, "orient": "right", "values": [0,10,20,30,40,50,60,70,80,90,100], "domain": false, "ticks": false, "grid": false,
"labelPadding": 15, "labelFontSize": 10, "labelColor": "#666", "labelFont": "DejaVu Sans"}}
},
"layer": [
{"mark": {"type": "area", "interpolate": "linear", "opacity": 1},
"encoding": {
"y2": {"field": "y0"},
"color": {"field": "s", "type": "nominal", "sort": ["4.X","5.X","6.X","7.X","8.X","9.X","10.X"],
"scale": {"domain": ["4.X","5.X","6.X","7.X","8.X","9.X","10.X"], "range": ["#e8d86c","#f37090","#9095ec","#f8ae70","#9ef08d","#59595d","#96c2ee"]},
"legend": {"orient": "none", "legendX": 106, "legendY": 173, "direction": "horizontal", "title": null, "symbolType": "circle", "symbolSize": 50, "symbolStrokeWidth": 0, "symbolOpacity": 1,
"labelFontSize": 9, "labelFontWeight": "bold", "labelColor": "#333", "labelFont": "DejaVu Sans", "columnPadding": 13, "labelOffset": 5}}
}},
{"transform": [{"filter": "datum.s != '10.X'"}],
"mark": {"type": "line", "interpolate": "linear", "color": "white", "strokeWidth": 1, "opacity": 0.9},
"encoding": {"detail": {"field": "s"}}}
]
}
],
"spacing": 31,
"bounds": "flush",
"resolve": {"scale": {"x": "independent", "y": "independent", "color": "independent"}, "legend": {"color": "independent"}},
"config": {"view": {"stroke": null}, "font": "DejaVu Sans"}
}
